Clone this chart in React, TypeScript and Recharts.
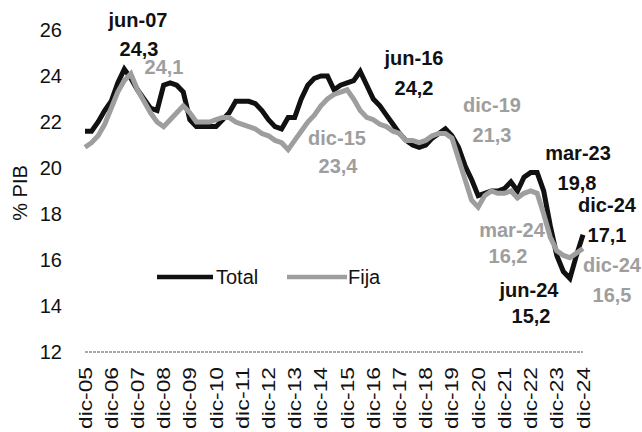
import React from 'react';
import { LineChart, Line, XAxis, YAxis } from 'recharts';

const monthNames = ['mar', 'jun', 'sep', 'dic'];
const quarters: string[] = ['dic-05'];
for (let y = 6; y <= 24; y++) {
  for (const m of monthNames) quarters.push(`${m}-${String(y).padStart(2, '0')}`);
}

const total = [
  21.6, 21.6, 22.0, 22.5, 22.9, 23.7, 24.3, 23.9, 23.4, 23.0,
  22.6, 22.5, 23.6, 23.7, 23.6, 23.3, 22.1, 21.8, 21.8, 21.8,
  21.8, 22.1, 22.4, 22.9, 22.9, 22.9, 22.8, 22.5, 22.1, 21.8,
  21.7, 22.2, 22.2, 23.0, 23.6, 23.9, 24.0, 24.0, 23.4, 23.6,
  23.7, 23.8, 24.2, 23.6, 23.0, 22.7, 22.3, 21.9, 21.5, 21.2,
  21.0, 20.9, 21.0, 21.3, 21.5, 21.7, 21.4, 20.9, 20.1, 19.5,
  18.8, 18.9, 19.0, 19.0, 19.1, 19.4, 19.0, 19.6, 19.8, 19.8,
  19.0, 17.5, 16.2, 15.5, 15.2, 16.2, 17.1,
];

const fija = [
  20.9, 21.1, 21.4, 21.9, 22.6, 23.3, 23.8, 24.1, 23.4, 22.9,
  22.4, 22.0, 21.8, 22.1, 22.4, 22.7, 22.4, 22.0, 22.0, 22.0,
  22.1, 22.2, 22.2, 22.0, 21.9, 21.8, 21.7, 21.5, 21.4, 21.2,
  21.1, 20.8, 21.2, 21.6, 22.0, 22.3, 22.7, 23.0, 23.2, 23.3,
  23.4, 23.0, 22.5, 22.2, 22.1, 21.9, 21.8, 21.6, 21.5, 21.2,
  21.2, 21.1, 21.2, 21.4, 21.5, 21.5, 21.3, 20.4, 19.5, 18.6,
  18.3, 18.8, 19.0, 18.9, 18.9, 19.0, 18.7, 18.9, 19.0, 18.9,
  18.0, 17.0, 16.4, 16.2, 16.1, 16.3, 16.5,
];

const yTicks = [12, 14, 16, 18, 20, 22, 24, 26];
const xTicks = quarters.filter((q) => q.startsWith('dic'));
const seriesNames = ['Total', 'Fija'];

const data = quarters.map((q, i) => ({ q, total: total[i], fija: fija[i] }));

const FONT = '"Liberation Sans", Arial, sans-serif';
const BLACK = '#111111';
const GRAY = '#9e9e9e';

const annBlack = [
  { t: 'jun-07', x: 138, y: 27 },
  { t: '24,3', x: 139, y: 56 },
  { t: 'jun-16', x: 414, y: 65 },
  { t: '24,2', x: 414, y: 95 },
  { t: 'mar-23', x: 578, y: 160 },
  { t: '19,8', x: 577, y: 190 },
  { t: 'dic-24', x: 607, y: 212 },
  { t: '17,1', x: 607, y: 242 },
  { t: 'jun-24', x: 529, y: 297 },
  { t: '15,2', x: 531, y: 323 },
];
const annGray = [
  { t: '24,1', x: 164, y: 74 },
  { t: 'dic-15', x: 337, y: 145 },
  { t: '23,4', x: 338, y: 173 },
  { t: 'dic-19', x: 492, y: 112 },
  { t: '21,3', x: 492, y: 142 },
  { t: 'mar-24', x: 512, y: 237 },
  { t: '16,2', x: 508, y: 263 },
  { t: 'dic-24', x: 612, y: 272 },
  { t: '16,5', x: 612, y: 302 },
];

const YTick = (props: any) => {
  const { x, y, payload } = props;
  return (
    <text x={x - 23} y={y} textAnchor="end" dominantBaseline="central" fontSize={20} fill="#111" fontFamily={FONT}>
      {payload.value}
    </text>
  );
};

const XTick = (props: any) => {
  const { x, y, payload } = props;
  const ty = y + 15;
  return (
    <text
      x={x}
      y={ty}
      transform={`rotate(-90, ${x}, ${ty})`}
      textAnchor="end"
      dominantBaseline="central"
      fontSize={19}
      textLength={62}
      lengthAdjust="spacingAndGlyphs"
      fill="#111"
      fontFamily={FONT}
    >
      {payload.value}
    </text>
  );
};

export default function App() {
  return (
    <div style={{ position: 'absolute', left: 0, top: 0, width: 642, height: 432, background: '#fff' }}>
      <LineChart width={642} height={432} data={data} margin={{ top: 30, right: 59, bottom: 0, left: 0 }}>
        <XAxis
          dataKey="q"
          ticks={xTicks}
          interval={0}
          height={80}
          tickLine={false}
          tickSize={0}
          tickMargin={0}
          tick={<XTick />}
          axisLine={{ stroke: '#a8a8a8', strokeWidth: 2, strokeDasharray: '3 1' }}
        />
        <YAxis
          domain={[12, 26]}
          ticks={yTicks}
          width={85}
          axisLine={false}
          tickLine={false}
          tickSize={0}
          tickMargin={0}
          tick={<YTick />}
        />
        <Line type="linear" dataKey="total" name={seriesNames[0]} stroke={BLACK} strokeWidth={5} dot={false} isAnimationActive={false} />
        <Line type="linear" dataKey="fija" name={seriesNames[1]} stroke={GRAY} strokeWidth={5} dot={false} isAnimationActive={false} />
      </LineChart>
      <svg width={642} height={432} style={{ position: 'absolute', left: 0, top: 0, pointerEvents: 'none' }}>
        <text x={20} y={193} transform="rotate(-90, 20, 193)" textAnchor="middle" dominantBaseline="central" fontSize={20} fontFamily={FONT} fill="#111">
          % PIB
        </text>
        <g>
          <line x1={157} x2={213} y1={277} y2={277} stroke={BLACK} strokeWidth={4.5} />
          <text x={216} y={277} dominantBaseline="central" fontSize={20} fontFamily={FONT} fill="#111">{seriesNames[0]}</text>
          <line x1={287} x2={347} y1={277} y2={277} stroke={GRAY} strokeWidth={4.5} />
          <text x={348} y={277} dominantBaseline="central" fontSize={20} fontFamily={FONT} fill="#111">{seriesNames[1]}</text>
        </g>
        {annBlack.map((a, i) => (
          <text key={'b' + i} x={a.x} y={a.y} textAnchor="middle" fontSize={20} fontWeight="bold" fontFamily={FONT} fill={BLACK}>
            {a.t}
          </text>
        ))}
        {annGray.map((a, i) => (
          <text key={'g' + i} x={a.x} y={a.y} textAnchor="middle" fontSize={20} fontWeight="bold" fontFamily={FONT} fill={GRAY}>
            {a.t}
          </text>
        ))}
      </svg>
    </div>
  );
}
